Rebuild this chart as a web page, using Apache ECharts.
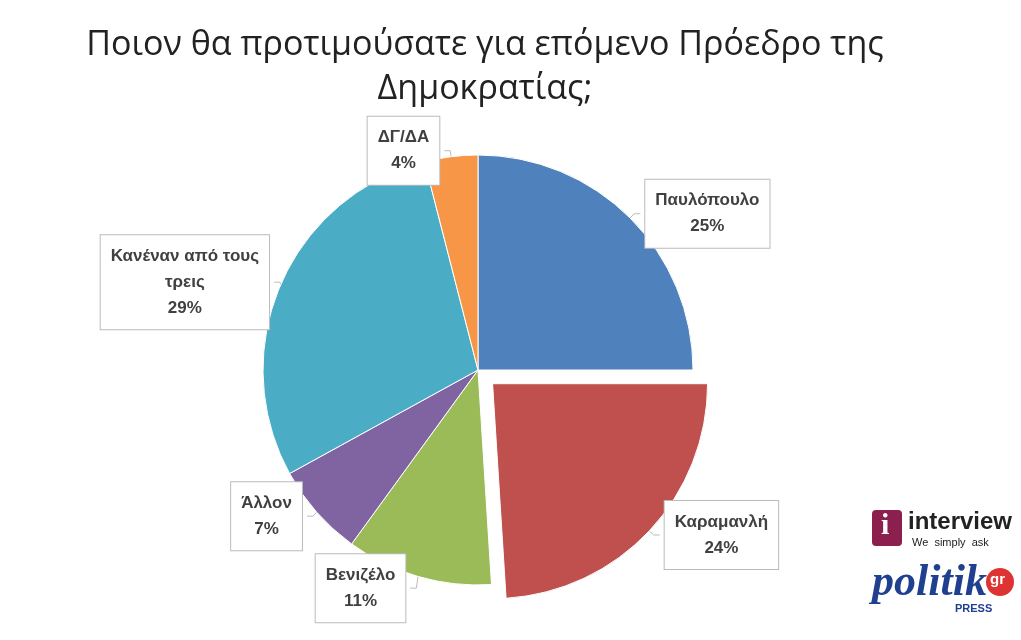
<!DOCTYPE html>
<html><head><meta charset="utf-8">
<script src="https://cdn.jsdelivr.net/npm/echarts@6/dist/echarts.min.js"></script>
<style>html,body{margin:0;padding:0;background:#fff}#c{width:1021px;height:640px}</style>
</head><body><div id="c"></div>
<script>
const categories = ['Παυλόπουλο','Καραμανλή','Βενιζέλο','Άλλον','Κανέναν από τους\nτρεις','ΔΓ/ΔΑ'];
const values = [25,24,11,7,29,4];
const colors = ['#4F81BD','#C0504D','#9BBB59','#8064A2','#4BACC6','#F79646'];
const chart = echarts.init(document.getElementById('c'));
chart.setOption({
  animation:false,
  title:{text:'Ποιον θα προτιμούσατε για επόμενο Πρόεδρο της\nΔημοκρατίας;',left:480,top:18,textAlign:'center',
    textStyle:{fontFamily:'Open Sans',fontWeight:'normal',fontSize:34,color:'#222',lineHeight:44}},
  series:[{type:'pie',center:[478,370],radius:[0,215],startAngle:90,clockwise:true,
    selectedMode:'single',selectedOffset:20,
    data:categories.map((n,i)=>({name:n,value:values[i],selected:i===1,itemStyle:{color:colors[i]}})),
    itemStyle:{borderColor:'#fff',borderWidth:1},
    label:{show:true,position:'outside',formatter:'{a|{b}\n{d}%}',
      rich:{a:{fontFamily:'Liberation Sans',fontWeight:'bold',fontSize:17,color:'#404040',align:'center',lineHeight:26}},
      backgroundColor:'#fff',borderColor:'#bbb',borderWidth:1,padding:[8,10]},
    labelLine:{show:true,length:6,length2:6,lineStyle:{color:'#bbb'}}
  }],
  graphic:[
    {type:'rect',left:872,top:510,shape:{width:30,height:36,r:4},style:{fill:'#8B1F4E'}},
    {type:'text',left:881,top:511,style:{text:'i',font:'bold 30px Liberation Serif',fill:'#fff'}},
    {type:'text',left:908,top:510,style:{text:'interview',font:'bold 24px Liberation Sans',fill:'#222'}},
    {type:'text',left:912,top:537,style:{text:'We  simply  ask',font:'11px Liberation Sans',fill:'#222'}},
    {type:'text',left:872,top:562,style:{text:'politik',font:'italic bold 44px Liberation Sans Narrow',fill:'#1F3F8F'}},
    {type:'circle',shape:{cx:1000,cy:582,r:14},style:{fill:'#D33'}},
    {type:'text',left:990,top:572,style:{text:'gr',font:'bold 15px Liberation Sans',fill:'#fff'}},
    {type:'text',left:955,top:603,style:{text:'PRESS',font:'bold 11px Liberation Sans',fill:'#1F3F8F'}}
  ]
});
</script></body></html>
